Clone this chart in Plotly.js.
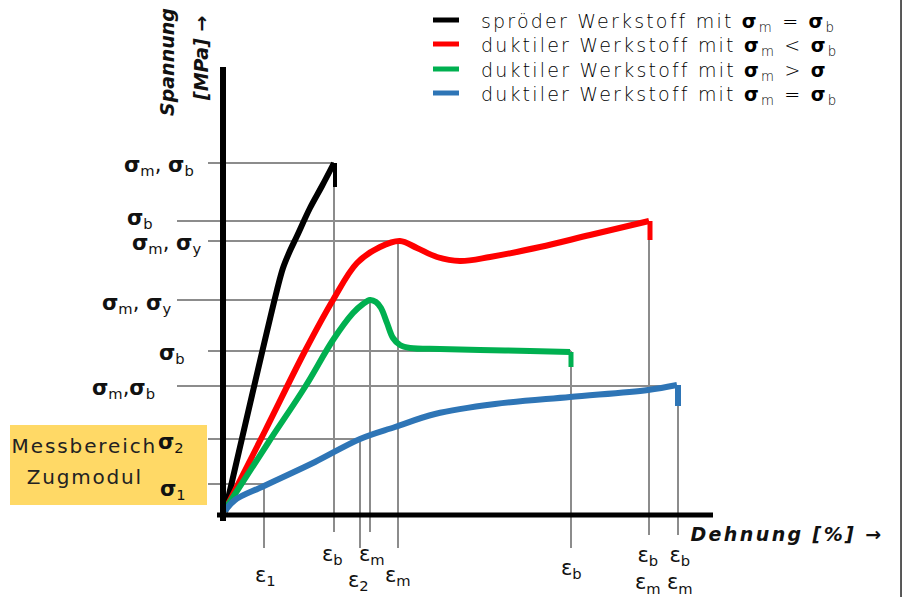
<!DOCTYPE html>
<html><head><meta charset="utf-8">
<script src="https://cdn.plot.ly/plotly-3.0.1.min.js"></script>
<style>html,body{margin:0;padding:0;background:#fff}#chart{width:903px;height:597px}</style>
</head><body><div id="chart"></div>
<script>
// Schematic stress–strain diagram (arbitrary units, origin at the axis corner)
const seriesNames = [
  'spröder Werkstoff mit <b>σ</b><sub>m</sub> = <b>σ</b><sub>b</sub>',
  'duktiler Werkstoff mit <b>σ</b><sub>m</sub> &lt; <b>σ</b><sub>b</sub>',
  'duktiler Werkstoff mit <b>σ</b><sub>m</sub> &gt; <b>σ</b>',
  'duktiler Werkstoff mit <b>σ</b><sub>m</sub> = <b>σ</b><sub>b</sub>'
];
const seriesColors = ['#000000', '#ff0000', '#00b050', '#2e75b6'];

const brittleStrain = [2, 54, 60, 66, 74, 87, 99, 111];
const brittleStress = [3, 225, 247, 262, 279, 307, 329, 352];
const brittleBreakStress = [352, 328];

const redStrain = [3, 42, 82, 110, 134, 157, 177, 194, 214, 237, 267, 317, 367, 426];
const redStress = [7, 84, 164, 215, 252, 268, 274, 267, 258, 254, 258, 268, 280, 294];
const redBreakStress = [294, 275];

const greenStrain = [3, 45, 82, 110, 130, 140, 147, 153, 158, 164, 170, 177, 187, 217, 257, 307, 347];
const greenStress = [7, 72, 128, 175, 202, 211, 215, 213, 207, 192, 177, 170, 167, 166, 165, 164, 163];
const greenBreakStress = [163, 148];

const blueStrain = [2, 12, 41, 92, 137, 172, 212, 272, 347, 425, 454];
const blueStress = [4, 15, 29, 53, 76, 88, 101, 111, 118, 125, 130];
const blueBreakStress = [130, 109];

// characteristic stress levels and the strain where each meets its curve
const sigmaLevels = [352, 294, 274, 215, 164, 129, 76, 31];
const sigmaReach  = [111, 426, 175, 147, 348, 455, 137, 41];
const sigmaLabels = [
  '<b>σ</b><sub>m</sub>, <b>σ</b><sub>b</sub>', '<b>σ</b><sub>b</sub>',
  '<b>σ</b><sub>m</sub>, <b>σ</b><sub>y</sub>', '<b>σ</b><sub>m</sub>, <b>σ</b><sub>y</sub>',
  '<b>σ</b><sub>b</sub>', '<b>σ</b><sub>m</sub>,<b>σ</b><sub>b</sub>',
  '<b>σ</b><sub>2</sub>', '<b>σ</b><sub>1</sub>'
];
// characteristic strains and the stress where each meets its curve
const epsPositions = [41, 111, 137, 147, 175, 348, 426, 455];
const epsLevels    = [31, 352, 76, 215, 274, 164, 294, 129];
const epsLabels = [
  'ε<sub>1</sub>', 'ε<sub>b</sub>', 'ε<sub>2</sub>', 'ε<sub>m</sub>', 'ε<sub>m</sub>',
  'ε<sub>b</sub>', 'ε<sub>b</sub><br>ε<sub>m</sub>', 'ε<sub>b</sub><br>ε<sub>m</sub>'
];

// ---- layout helpers (positions / styles) ----
const hStart = [-15, -46, -15, -46, -15, -46, -15, -15];
const vEnd   = [-33, -17, -33, -17, -33, -33, -20, -20];
const sigLabelPos = [[-27, 349], [-68, 296], [-20, 271], [-50, 211], [-36, 161], [-66, 126], [-37, 72], [-35, 25]];
const epsLabelPos = [[42, -61], [109, -40], [135, -66], [149, -40], [175, -61], [348, -54], [425, -55], [457, -55]];

const guideX = [], guideY = [];
sigmaLevels.forEach((s, i) => { guideX.push(hStart[i], sigmaReach[i], null); guideY.push(s, s, null); });
epsPositions.forEach((e, i) => { guideX.push(e, e, null); guideY.push(epsLevels[i], vEnd[i], null); });

const traces = [{
  x: guideX, y: guideY, mode: 'lines', line: {color: '#8c8c8c', width: 2},
  hoverinfo: 'skip', showlegend: false
}];
const curves = [
  [brittleStrain, brittleStress, brittleBreakStress, 4],
  [redStrain, redStress, redBreakStress, 5],
  [greenStrain, greenStress, greenBreakStress, 5],
  [blueStrain, blueStress, blueBreakStress, 6]
];
curves.forEach((c, i) => {
  traces.push({x: c[0], y: c[1], mode: 'lines', name: seriesNames[i],
    line: {color: seriesColors[i], width: 6, shape: 'spline', smoothing: 1}, showlegend: false});
  const xe = c[0][c[0].length - 1] + 1;
  traces.push({x: [xe, xe], y: c[2], mode: 'lines', line: {color: seriesColors[i], width: c[3]},
    showlegend: false, hoverinfo: 'skip'});
});

// letter spacing (wide typeface of the original); Plotly measures text without it,
// so left-anchored texts are shifted by half the extra width.
const plainLen = t => t.replace(/<[^>]+>/g, '').replace(/&[a-z]+;/g, 'x').length;
const half = (t, sp) => plainLen(t) * sp / 2;
const legendSp = 2.2, dehnSp = 2.4;

const greekFont = {family: 'DejaVu Sans', size: 21, color: '#111'};
const annotations = [];
sigmaLabels.forEach((t, i) => annotations.push({x: sigLabelPos[i][0], y: sigLabelPos[i][1], xref: 'x', yref: 'y',
  text: t, showarrow: false, xanchor: 'right', yanchor: 'middle', font: greekFont}));
epsLabels.forEach((t, i) => annotations.push({x: epsLabelPos[i][0], y: epsLabelPos[i][1], xref: 'x', yref: 'y',
  text: t, showarrow: false, xanchor: 'center', yanchor: 'middle', font: greekFont}));
// legend (manual), indices 16..19
const legendRowY = [493, 469, 444, 420];
seriesNames.forEach((t, i) => annotations.push({x: 256 + half(t, legendSp), y: legendRowY[i], xref: 'x', yref: 'y', text: t,
  showarrow: false, xanchor: 'left', yanchor: 'middle',
  font: {family: 'DejaVu Sans', size: 19, color: '#000', weight: 300}}));
// axis titles, indices 20..22
const titleFont = {family: 'DejaVu Sans', size: 19, color: '#111', weight: 'bold', style: 'italic'};
annotations.push({x: -56, y: 453, xref: 'x', yref: 'y', text: 'Spannung', textangle: -90, showarrow: false, font: titleFont});
annotations.push({x: -22, y: 456, xref: 'x', yref: 'y', text: '[MPa] →', textangle: -90, showarrow: false, font: titleFont});
annotations.push({x: 465 + half('Dehnung [%] →', dehnSp), y: -19, xref: 'x', yref: 'y', text: 'Dehnung [%] →', xanchor: 'left', showarrow: false, font: titleFont});
// box text, indices 23..24
const boxFont = {family: 'DejaVu Sans', size: 20, color: '#222'};
annotations.push({x: -139, y: 69, xref: 'x', yref: 'y', text: 'Messbereich', showarrow: false, xanchor: 'center', yanchor: 'middle', font: boxFont});
annotations.push({x: -138, y: 38, xref: 'x', yref: 'y', text: 'Zugmodul', showarrow: false, xanchor: 'center', yanchor: 'middle', font: boxFont});

const spacing = {16: legendSp, 17: legendSp, 18: legendSp, 19: legendSp, 22: dehnSp, 23: 1.9, 24: 1.8};
const st = document.createElement('style');
st.textContent = Object.keys(spacing).map(k => `g.annotation[data-index="${k}"] text{letter-spacing:${spacing[k]}px}`).join('\n');
document.head.appendChild(st);

const shapes = [
  {type: 'rect', xref: 'x', yref: 'y', x0: -213, x1: -16, y0: 10, y1: 90, fillcolor: '#ffd966', line: {width: 0}, layer: 'below'},
  {type: 'line', xref: 'x', yref: 'y', x0: 0, x1: 0, y0: 448, y1: -6, line: {color: '#000', width: 6}, layer: 'above'},
  {type: 'line', xref: 'x', yref: 'y', x0: -6, x1: 490, y0: 0, y1: 0, line: {color: '#000', width: 5}, layer: 'above'},
  {type: 'line', xref: 'paper', yref: 'paper', x0: 0.9978, x1: 0.9978, y0: 0, y1: 1, line: {color: '#222', width: 1.5}}
];
legendRowY.forEach((y, i) => shapes.push({type: 'line', xref: 'x', yref: 'y', x0: 210, x1: 236, y0: y + 2, y1: y + 2,
  line: {color: seriesColors[i], width: 5}}));

Plotly.newPlot('chart', traces, {
  width: 903, height: 597, margin: {l: 0, r: 0, t: 0, b: 0},
  paper_bgcolor: '#fff', plot_bgcolor: '#fff', showlegend: false,
  xaxis: {range: [-223, 680], visible: false, fixedrange: true},
  yaxis: {range: [-82, 515], visible: false, fixedrange: true},
  shapes: shapes, annotations: annotations
}, {staticPlot: true});
</script></body></html>
